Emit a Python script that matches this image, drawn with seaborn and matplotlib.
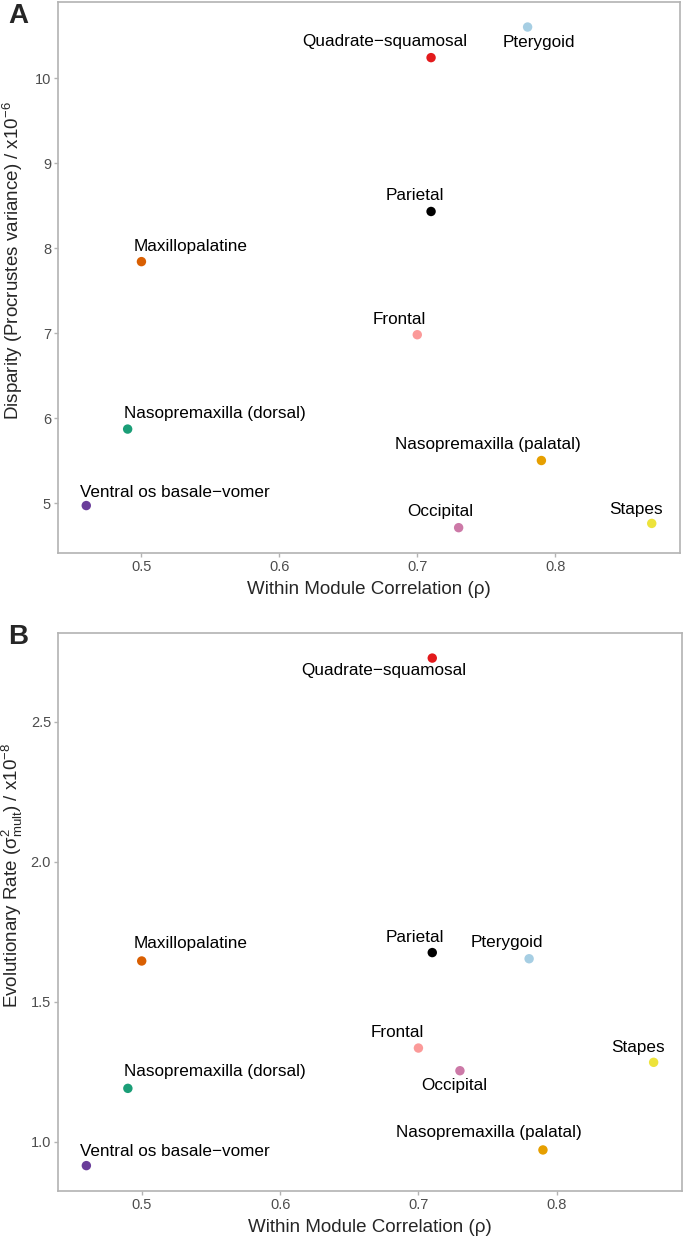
"""
Disparity and evolutionary rate against within-module correlation
for ten cranial modules (two stacked scatter panels, labelled A and B).
"""

import pandas as pd
import matplotlib
matplotlib.use('Agg')
import matplotlib.pyplot as plt
import seaborn as sns

# Data
modules = ['Ventral os basale\u2212vomer', 'Nasopremaxilla (dorsal)', 'Maxillopalatine',
           'Frontal', 'Parietal', 'Quadrate\u2212squamosal', 'Occipital',
           'Pterygoid', 'Nasopremaxilla (palatal)', 'Stapes']
rho = [0.46, 0.49, 0.50, 0.70, 0.71, 0.71, 0.73, 0.78, 0.79, 0.87]
disparity = [4.97, 5.87, 7.84, 6.98, 8.43, 10.24, 4.71, 10.60, 5.50, 4.76]
rate = [0.914, 1.19, 1.645, 1.334, 1.675, 2.727, 1.253, 1.653, 0.97, 1.283]
colors = ['#6a3d9a', '#1b9e77', '#d95f02', '#fb9a99', '#000000',
          '#e31a1c', '#cc79a7', '#a6cee3', '#e69f00', '#ede33b']

# label offsets (pixels, x right / y down) for each panel, like ggrepel put them
offs_a = {modules[0]: (89, -13), modules[1]: (87, -16), modules[2]: (49, -15),
          modules[3]: (-18, -15), modules[4]: (-16, -16), modules[5]: (-46, -16),
          modules[6]: (-18, -16), modules[7]: (11, 15), modules[8]: (-54, -16),
          modules[9]: (-16, -14)}
offs_b = {modules[0]: (89, -14), modules[1]: (87, -17), modules[2]: (49, -17),
          modules[3]: (-21, -16), modules[4]: (-17, -15), modules[5]: (-48, 12),
          modules[6]: (-6, 15), modules[7]: (-22, -16), modules[8]: (-54, -17),
          modules[9]: (-16, -15)}

df = pd.DataFrame({'module': modules, 'rho': rho, 'disparity': disparity, 'rate': rate})
palette = dict(zip(modules, colors))

sns.set_style('white')
plt.rcParams['font.family'] = ['Liberation Sans', 'DejaVu Sans']
plt.rcParams['mathtext.fontset'] = 'custom'
plt.rcParams['mathtext.rm'] = 'Liberation Sans'
plt.rcParams['mathtext.it'] = 'Liberation Sans'
plt.rcParams['mathtext.default'] = 'regular'

W, H = 685, 1239
fig = plt.figure(figsize=(W / 100, H / 100), dpi=100)
ax_a = fig.add_axes([58 / W, 1 - 552.7 / H, 622 / W, 550.7 / H])
ax_b = fig.add_axes([58 / W, 1 - 1191 / H, 624 / W, 558.3 / H])


def expand(vals, frac=0.05):
    lo, hi = min(vals), max(vals)
    pad = (hi - lo) * frac
    return lo - pad, hi + pad


def panel(ax, ycol, offs, ylabel, yticks, yfmt, ylab_y):
    sns.scatterplot(data=df, x='rho', y=ycol, hue='module', palette=palette,
                    s=46, linewidth=0, legend=False, ax=ax, zorder=3)
    for _, r in df.iterrows():
        dx, dy = offs[r['module']]
        ax.annotate(r['module'], (r['rho'], r[ycol]), xytext=(dx * 0.72, -dy * 0.72),
                    textcoords='offset points', ha='center', va='center',
                    fontsize=12.3, color='black')
    ax.set_xlim(*expand(rho))
    ax.set_ylim(*expand(df[ycol]))
    ax.set_xticks([0.5, 0.6, 0.7, 0.8])
    ax.set_xticklabels(['0.5', '0.6', '0.7', '0.8'])
    ax.set_yticks(yticks)
    ax.set_yticklabels([yfmt.format(v) for v in yticks])
    ax.tick_params(axis='both', length=3, width=1, color='#b3b3b3',
                   labelcolor='#4d4d4d', labelsize=10.5, pad=2, direction='out',
                   bottom=True, left=True)
    for sp in ax.spines.values():
        sp.set_color('#b3b3b3')
        sp.set_linewidth(1.2)
    ax.set_xlabel('Within Module Correlation (\u03c1)', fontsize=13.5, labelpad=5)
    ax.set_ylabel(ylabel, fontsize=13.5)
    # label anchor is its right edge (text reads bottom to top)
    ax.yaxis.set_label_coords(-33 / ax.bbox.width * 1.0, ylab_y)
    ax.grid(False)


panel(ax_a, 'disparity', offs_a, r'Disparity (Procrustes variance) / x10$^{-6}$',
      [5, 6, 7, 8, 9, 10], '{:.0f}', 0.53)
panel(ax_b, 'rate', offs_b, r'Evolutionary Rate ($\sigma^2_{mult}$) / x10$^{-8}$',
      [1.0, 1.5, 2.0, 2.5], '{:.1f}', 0.565)

fig.text(18 / W, 1 - 16 / H, 'A', fontsize=20, fontweight='bold', ha='center', va='center')
fig.text(18 / W, 1 - 637 / H, 'B', fontsize=20, fontweight='bold', ha='center', va='center')

fig.savefig('out.png', dpi=100)
plt.close(fig)
